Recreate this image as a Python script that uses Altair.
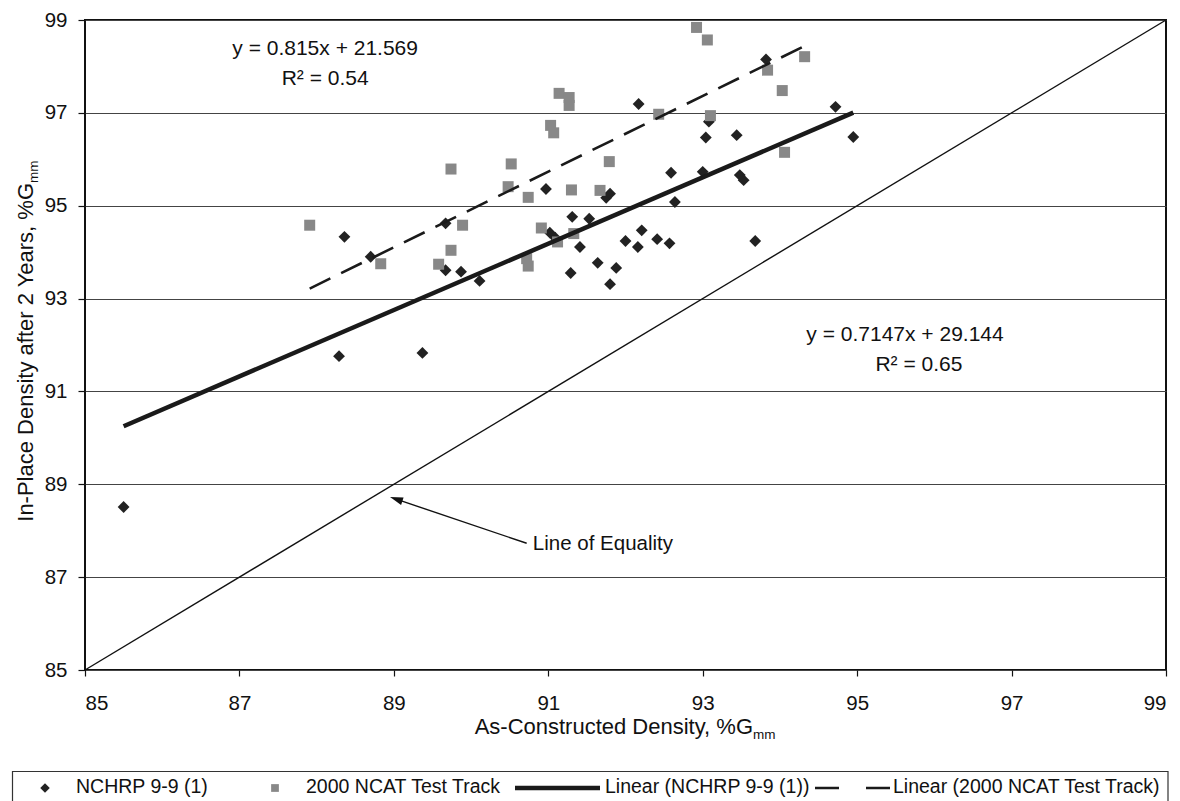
import altair as alt
import pandas as pd

# ---------------- data ----------------
nchrp_x = [85.50, 88.29, 88.36, 88.70, 89.37, 89.67, 89.67, 89.87, 90.11, 90.97,
           91.02, 91.09, 91.29, 91.31, 91.41, 91.53, 91.64, 91.75, 91.80, 91.80,
           91.88, 92.00, 92.16, 92.17, 92.21, 92.41, 92.57, 92.59, 92.64, 93.00,
           93.04, 93.08, 93.44, 93.48, 93.53, 93.68, 93.82, 94.72, 94.95]
nchrp_y = [88.51, 91.76, 94.33, 93.90, 91.83, 94.62, 93.61, 93.58, 93.38, 95.36,
           94.42, 94.31, 93.55, 94.76, 94.11, 94.72, 93.77, 95.17, 95.26, 93.31,
           93.66, 94.24, 94.11, 97.19, 94.47, 94.28, 94.19, 95.71, 95.08, 95.73,
           96.47, 96.81, 96.52, 95.66, 95.55, 94.24, 98.15, 97.13, 96.48]

ncat_x = [87.91, 88.83, 89.58, 89.74, 89.74, 89.89, 90.48, 90.52, 90.72, 90.74,
          90.74, 90.91, 91.03, 91.07, 91.12, 91.14, 91.27, 91.27, 91.30, 91.33,
          91.67, 91.79, 92.43, 92.92, 93.06, 93.10, 93.84, 94.03, 94.06, 94.32]
ncat_y = [94.58, 93.75, 93.74, 94.04, 95.79, 94.58, 95.41, 95.90, 93.86, 93.70,
          95.18, 94.52, 96.73, 96.57, 94.22, 97.42, 97.33, 97.16, 95.34, 94.40,
          95.33, 95.95, 96.97, 98.84, 98.57, 96.94, 97.92, 97.48, 96.15, 98.21]

nchrp_fit = (0.7147, 29.144)
ncat_fit = (0.815, 21.569)

tick_values = [85, 87, 89, 91, 93, 95, 97, 99]
equality_x = [85, 99]

legend_labels = ["NCHRP 9-9 (1)", "2000 NCAT Test Track",
                 "Linear (NCHRP 9-9 (1))", "Linear (2000 NCAT Test Track)"]

eq_labels = ["y = 0.815x + 21.569", "R\u00b2 = 0.54",
             "y = 0.7147x + 29.144", "R\u00b2 = 0.65"]

# ---------------- tables ----------------
FONT = "Liberation Sans"
INK = "#111111"

df_nchrp = pd.DataFrame({"x": nchrp_x, "y": nchrp_y})
df_ncat = pd.DataFrame({"x": ncat_x, "y": ncat_y})


def fit_table(xs, fit):
    lo, hi = min(xs), max(xs)
    return pd.DataFrame({"x": [lo, hi], "y": [fit[0] * lo + fit[1], fit[0] * hi + fit[1]]})


df_fit_nchrp = fit_table(nchrp_x, nchrp_fit)
df_fit_ncat = fit_table(ncat_x, ncat_fit)
df_eq = pd.DataFrame({"x": equality_x, "y": equality_x})

# annotation anchors (data coordinates)
df_ann = pd.DataFrame({
    "x": [88.11, 88.11, 95.62, 95.80],
    "y": [98.24, 97.61, 92.08, 91.43],
    "label": eq_labels,
})
df_loe = pd.DataFrame({"x": [90.80], "y": [87.59], "label": ["Line of Equality"]})
df_arrow = pd.DataFrame({"x": [90.72], "y": [87.73], "x2": [89.03], "y2": [88.68]})
df_head = pd.DataFrame({"x": [89.03], "y": [88.68]})
one = pd.DataFrame({"k": [0]})

xs = alt.Scale(domain=[85, 99], nice=False, zero=False)
ys = alt.Scale(domain=[85, 99], nice=False, zero=False)
x_axis = alt.Axis(values=tick_values, grid=False, title=None, domain=False,
                  tickSize=6, labelPadding=17, format="d")
y_axis = alt.Axis(values=tick_values, grid=True, gridColor="#444444", gridWidth=1.2,
                  title=None, domain=False, tickSize=7, labelPadding=11, format="d")
X = alt.X("x:Q", scale=xs, axis=x_axis)
Y = alt.Y("y:Q", scale=ys, axis=y_axis)

equality = alt.Chart(df_eq).mark_line(color=INK, strokeWidth=1.4).encode(x=X, y=Y)

diamonds = alt.Chart(df_nchrp).mark_point(
    shape="diamond", filled=True, size=140, color="#222222", opacity=1
).encode(x=X, y=Y)

squares = alt.Chart(df_ncat).mark_square(size=121, color="#888888", opacity=1).encode(x=X, y=Y)

fit1 = alt.Chart(df_fit_nchrp).mark_line(color="#1a1a1a", strokeWidth=4.5).encode(x=X, y=Y)
fit2 = alt.Chart(df_fit_ncat).mark_line(
    color="#1a1a1a", strokeWidth=2.6, strokeDash=[23, 12]
).encode(x=X, y=Y)

ann = alt.Chart(df_ann).mark_text(
    align="center", baseline="alphabetic", font=FONT, fontSize=21, color=INK
).encode(x=X, y=Y, text="label:N")

loe = alt.Chart(df_loe).mark_text(
    align="left", baseline="alphabetic", font=FONT, fontSize=20.5, color=INK
).encode(x=X, y=Y, text="label:N")

arrow = alt.Chart(df_arrow).mark_rule(color=INK, strokeWidth=1.4).encode(
    x=X, y=Y, x2="x2:Q", y2="y2:Q")

head = alt.Chart(df_head).mark_point(
    shape="M0,-1L0.6,1L-0.6,1Z", filled=True, size=169, angle=288.6, color=INK, opacity=1
).encode(x=X, y=Y)

# axis titles with subscript
xt_main = alt.Chart(one).mark_text(
    text="As-Constructed Density, %G", align="right", baseline="alphabetic",
    font=FONT, fontSize=22, color=INK
).encode(x=alt.value(668), y=alt.value(714))
xt_sub = alt.Chart(one).mark_text(
    text="mm", align="left", baseline="alphabetic", font=FONT, fontSize=13.5, color=INK
).encode(x=alt.value(668), y=alt.value(719))

yt_main = alt.Chart(one).mark_text(
    text="In-Place Density after 2 Years, %G", align="right", baseline="alphabetic",
    angle=270, font=FONT, fontSize=22, color=INK
).encode(x=alt.value(-52), y=alt.value(163))
yt_sub = alt.Chart(one).mark_text(
    text="mm", align="left", baseline="alphabetic", angle=270,
    font=FONT, fontSize=13.5, color=INK
).encode(x=alt.value(-47), y=alt.value(163))

# hand-built legend
LY = 767
leg_box = alt.Chart(one).mark_rect(fill="white", stroke="#333333", strokeWidth=1.2).encode(
    x=alt.value(-72.5), x2=alt.value(1083), y=alt.value(751.5), y2=alt.value(790))
leg_d = alt.Chart(one).mark_point(shape="diamond", filled=True, size=90,
                                  color="#222222", opacity=1).encode(
    x=alt.value(-40), y=alt.value(LY + 1))
leg_s = alt.Chart(one).mark_square(size=60, color="#888888", opacity=1).encode(
    x=alt.value(190), y=alt.value(LY + 1))
leg_l1 = alt.Chart(one).mark_rule(color="#1a1a1a", strokeWidth=4.5).encode(
    x=alt.value(430), x2=alt.value(515), y=alt.value(LY + 1))
leg_l2 = alt.Chart(one).mark_rule(color="#1a1a1a", strokeWidth=2.6, strokeDash=[24, 27]).encode(
    x=alt.value(730), x2=alt.value(805), y=alt.value(LY + 1))
leg_texts = []
for lab, px in zip(legend_labels, [-9, 221, 520, 808]):
    leg_texts.append(alt.Chart(one).mark_text(
        text=lab, align="left", baseline="middle", font=FONT, fontSize=19.5, color=INK
    ).encode(x=alt.value(px), y=alt.value(LY)))

chart = alt.layer(
    equality, diamonds, squares, fit1, fit2, ann, loe, arrow, head,
    xt_main, xt_sub, yt_main, yt_sub,
    leg_box, leg_d, leg_s, leg_l1, leg_l2, *leg_texts
).properties(
    width=1081, height=650,
    padding={"left": 85, "top": 20, "right": 14, "bottom": 131},
    autosize=alt.AutoSizeParams(type="none"),
).configure_view(
    stroke=INK, strokeWidth=2
).configure_axis(
    labelFont=FONT, labelFontSize=20.5, labelColor=INK,
    tickColor=INK, tickWidth=1.2
)

chart.save("out.html", embed_options={"renderer": "svg", "actions": False})
